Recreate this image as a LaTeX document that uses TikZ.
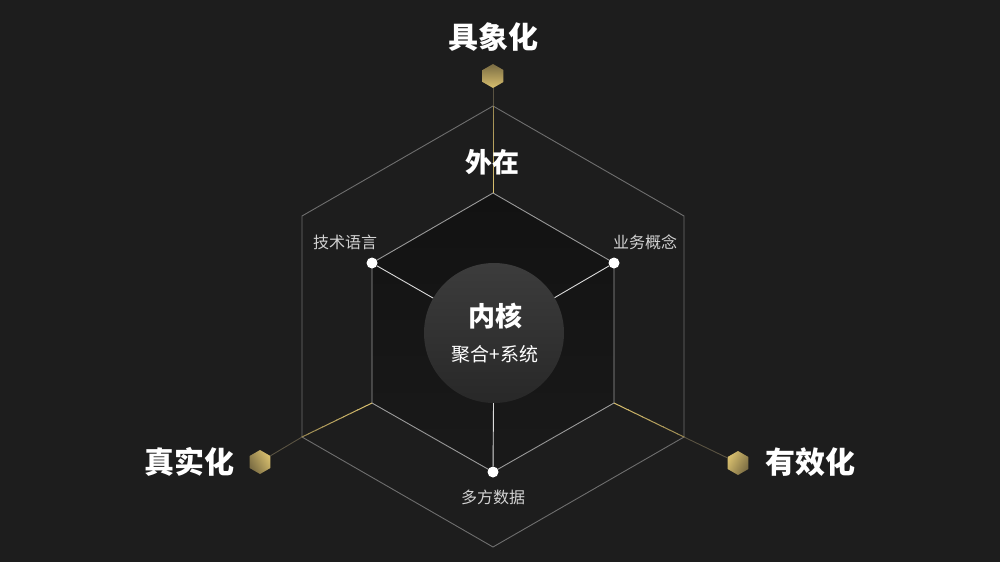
\documentclass[tikz,border=0pt]{standalone}
\usepackage{fontspec}
\setmainfont{Noto Sans CJK SC}
\usetikzlibrary{shapes.geometric,calc}

\definecolor{bgdark}{HTML}{1D1D1D}
\definecolor{coredark}{HTML}{121212}
\definecolor{rimgray}{HTML}{6E6E6E}
\definecolor{edgegray}{HTML}{9A9A9A}
\definecolor{goldhi}{HTML}{D8BF6E}
\definecolor{goldlo}{HTML}{7A6C43}
\definecolor{golddim}{HTML}{5A5342}
\definecolor{labelgray}{HTML}{D2D2D2}
\definecolor{corehi}{HTML}{3C3C3C}
\definecolor{corelo}{HTML}{282828}

\tikzset{
  rim/.style={draw=rimgray, line width=0.9pt},
  edge/.style={draw=edgegray, line width=0.9pt},
  spoke/.style={draw=labelgray!80, line width=0.9pt},
  tail/.style={draw=golddim, line width=0.9pt},
  dot/.style={circle, fill=white, inner sep=0pt, minimum size=11pt},
  gem/.style={regular polygon, regular polygon sides=6, shape border rotate=30,
    inner sep=0pt, minimum size=24pt, top color=goldlo, bottom color=goldhi},
  title/.style={text=white, font=\fontsize{30}{32}\selectfont\bfseries},
  sub/.style={text=labelgray, font=\fontsize{16}{18}\selectfont}
}

\begin{document}
\begin{tikzpicture}[x=1pt,y=-1pt]
    \fill[bgdark] (0,0) rectangle (1000,562);
    \useasboundingbox (0,0) rectangle (1000,562);

    % outer hexagon
    \coordinate (o1) at (493,106);
    \coordinate (o2) at (684,216);
    \coordinate (o3) at (684,437);
    \coordinate (o4) at (493,547);
    \coordinate (o5) at (302,437);
    \coordinate (o6) at (302,216);
    \draw[rim] (o1) -- (o2) -- (o3) -- (o4) -- (o5) -- (o6) -- cycle;

    % inner hexagon
    \coordinate (i1) at (493,193);
    \coordinate (i2) at (614,263);
    \coordinate (i3) at (614,403);
    \coordinate (i4) at (493,472);
    \coordinate (i5) at (372,403);
    \coordinate (i6) at (372,263);
    \shade[top color=coredark, bottom color=bgdark!70!coredark]
      (i1) -- (i2) -- (i3) -- (i4) -- (i5) -- (i6) -- cycle;
    \draw[edge] (i1) -- (i2) -- (i3) -- (i4) -- (i5) -- (i6) -- cycle;

    % gold axes, bright at the inner end
    \node[gem] (g1) at (493,76) {};
    \node[gem, shading angle=120] (g2) at (260,462) {};
    \node[gem, shading angle=-120] (g3) at (738,463) {};
    \foreach \i/\o/\g in {i1/o1/g1, i5/o5/g2, i3/o3/g3}
    {
      \foreach \k in {0,...,9}
        \draw[line width=1pt, draw=goldhi!\the\numexpr100-\k*7\relax!goldlo]
          ($(\i)!\k/10!(\o)$) -- ($(\i)!\k/10+0.11!(\o)$);
      \draw[tail] (\o) -- (\g);
    }

    % core
    \node[circle, minimum size=140pt, inner sep=0pt, top color=corehi, bottom color=corelo]
      (core) at (494,333) {};
    \node[dot] (d1) at (i6) {};
    \node[dot] (d2) at (i2) {};
    \node[dot] (d3) at (i4) {};
    \foreach \d in {d1,d2,d3}
      \draw[spoke] (core) -- (\d);

    \node[title] (t1) at (493,37) {具象化};
    \node[title] (t2) at (189,462) {真实化};
    \node[title] (t3) at (810,462) {有效化};
    \node[title, font=\fontsize{27}{29}\selectfont\bfseries] (t4) at (492,162) {外在};
    \node[title, font=\fontsize{27}{29}\selectfont\bfseries] (t5) at (495,316) {内核};
    \node[sub, text=white, font=\fontsize{19}{21}\selectfont] (t6) at (495,354) {聚合+系统};
    \node[sub] (t7) at (345,242) {技术语言};
    \node[sub] (t8) at (645,242) {业务概念};
    \node[sub] (t9) at (493,497) {多方数据};
  \end{tikzpicture}
\end{document}
